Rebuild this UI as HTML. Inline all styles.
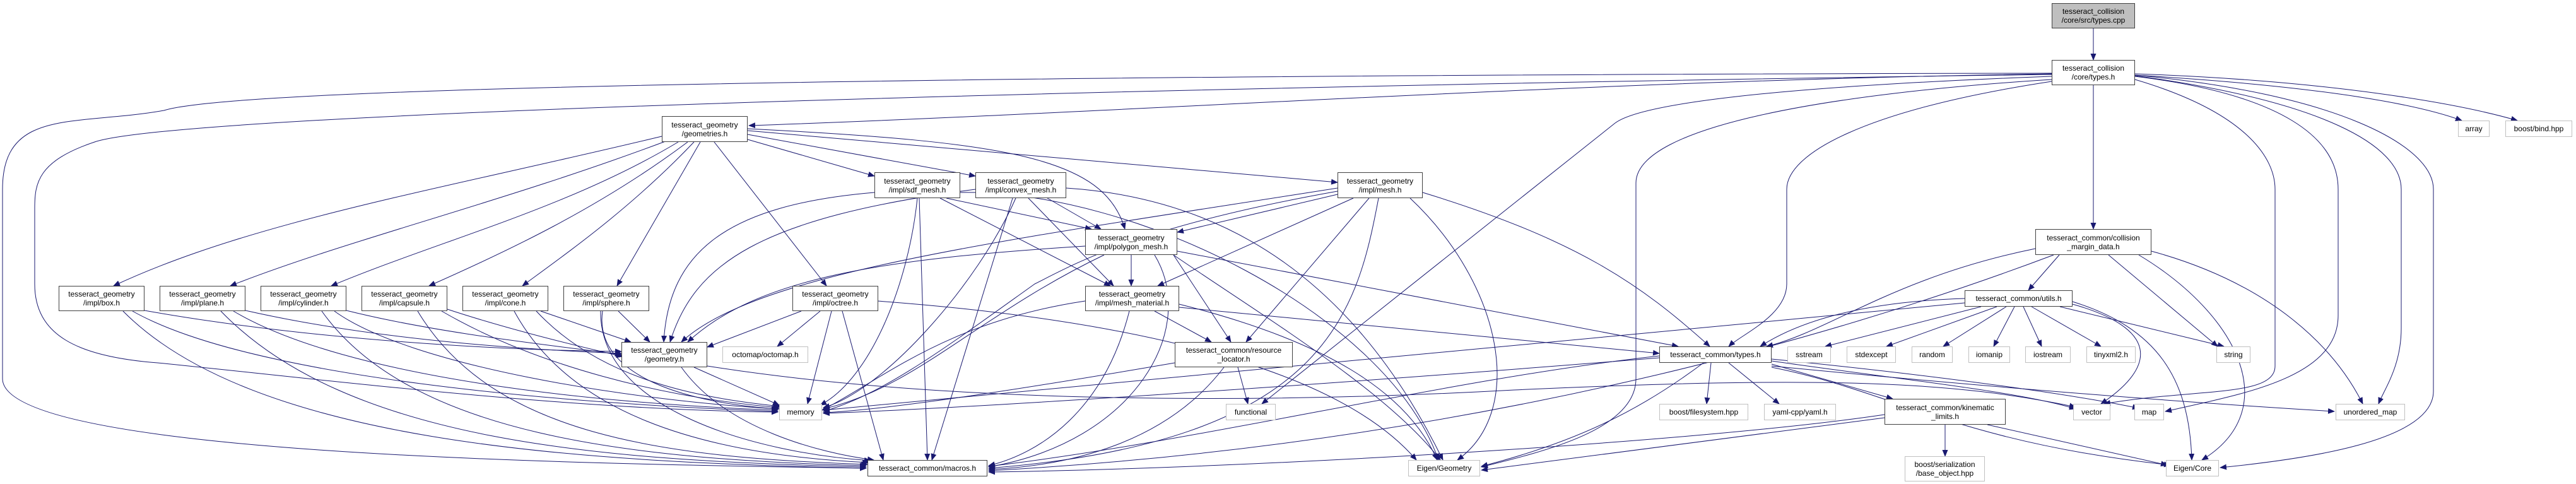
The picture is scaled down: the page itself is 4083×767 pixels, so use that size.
<!DOCTYPE html>
<html><head><meta charset="utf-8"><style>
html,body{margin:0;padding:0;background:#fff;}
#c{position:relative;width:4083px;height:767px;overflow:hidden;background:#fff;}
svg{position:absolute;left:0;top:0;}
.n{position:absolute;box-sizing:border-box;border:1.3px solid #404040;background:#fff;display:flex;align-items:center;justify-content:center;text-align:center;font-family:"Liberation Sans",sans-serif;font-size:12px;line-height:14px;color:#000;white-space:nowrap;}
.g{border-color:#c0c0c0;}
</style></head><body><div id="c">
<svg width="4083" height="767" viewBox="0 0 4083 767">
<defs><marker id="a" markerUnits="userSpaceOnUse" markerWidth="11" markerHeight="9" refX="10" refY="4.5" orient="auto"><path d="M0,0 L11,4.5 L0,9 z" fill="#191970"/></marker></defs>
<g fill="none" stroke="#191970" stroke-width="1" marker-end="url(#a)">
<path d="M3318,45 L3318,95"/>
<path d="M3252,117 C2500,128 1800,178 1187,199"/>
<path d="M3252,116 C2000,118 400,130 260,175 C120,200 4,170 4,300 L4,600 C4,720 900,735 1373,742"/>
<path d="M3252,118 C2000,135 300,175 150,225 C60,255 55,290 55,330 L55,450 C55,530 120,565 250,575 C500,600 900,650 1233,653"/>
<path d="M3252,121 C2800,138 2600,165 2560,195 L2000,640"/>
<path d="M3252,126 C2900,148 2593,200 2593,290 L2593,600 C2593,680 2450,715 2348,740"/>
<path d="M3252,129 C2950,175 2832,245 2832,300 L2832,450 C2832,500 2760,530 2740,549"/>
<path d="M3318,135 L3318,363"/>
<path d="M3384,126 C3560,178 3606,250 3606,300 L3606,580 C3606,630 3480,615 3335,640"/>
<path d="M3384,121 C3620,150 3706,220 3706,300 L3706,500 C3706,600 3550,625 3432,652"/>
<path d="M3384,120 C3680,160 3806,230 3806,300 L3806,520 C3806,580 3780,615 3770,640"/>
<path d="M3384,119 C3700,148 3857,230 3857,300 L3857,620 C3857,700 3650,728 3519,741"/>
<path d="M3384,119 C3700,138 3840,168 3902,191"/>
<path d="M3384,117 C3700,128 3900,165 3990,191"/>
<path d="M1049,216 C700,300 400,350 180,453"/>
<path d="M1060,222 C800,320 550,380 365,453"/>
<path d="M1075,225 C900,330 700,380 525,453"/>
<path d="M1090,225 C950,330 800,400 680,453"/>
<path d="M1100,225 C1000,330 900,400 828,453"/>
<path d="M1110,225 L978,453"/>
<path d="M1132,225 L1310,453"/>
<path d="M1185,221 L1386,279"/>
<path d="M1185,213 L1546,279"/>
<path d="M1185,207 L2120,289"/>
<path d="M1185,204 C1600,225 1750,250 1783,363"/>
<path d="M229,492 C500,540 800,555 985,557"/>
<path d="M210,493 C400,600 900,640 1233,652"/>
<path d="M195,493 C400,700 900,732 1373,742"/>
<path d="M389,492 C600,540 850,555 985,560"/>
<path d="M370,493 C550,600 950,640 1233,650"/>
<path d="M350,493 C550,700 950,730 1373,740"/>
<path d="M549,492 C700,530 900,550 985,562"/>
<path d="M530,493 C650,580 1000,635 1233,648"/>
<path d="M510,493 C650,690 1000,728 1373,738"/>
<path d="M709,490 C800,520 900,545 987,565"/>
<path d="M700,493 C850,580 1050,630 1235,646"/>
<path d="M662,493 C780,690 1050,725 1375,736"/>
<path d="M857,493 L1000,542"/>
<path d="M850,493 C950,600 1100,630 1237,644"/>
<path d="M815,493 C900,650 1100,720 1377,733"/>
<path d="M980,493 L1030,542"/>
<path d="M955,493 C940,600 1100,640 1235,648"/>
<path d="M952,493 C950,650 1200,718 1380,730"/>
<path d="M1270,493 L1121,550"/>
<path d="M1300,493 L1232,549"/>
<path d="M1318,493 L1280,640"/>
<path d="M1335,493 L1400,729"/>
<path d="M1391,477 C1700,500 2100,560 2245,729"/>
<path d="M1100,582 L1235,642"/>
<path d="M1080,582 C1150,680 1300,718 1385,729"/>
<path d="M1121,580 C1500,640 2000,640 2400,618 C2900,595 3100,605 3290,645"/>
<path d="M1500,314 L1730,363"/>
<path d="M1490,314 L1760,453"/>
<path d="M1386,305 C1150,325 1060,400 1052,542"/>
<path d="M1454,314 C1440,450 1380,600 1300,642"/>
<path d="M1457,314 L1470,729"/>
<path d="M1522,305 C1800,300 2200,500 2280,729"/>
<path d="M1660,314 L1745,363"/>
<path d="M1630,314 L1765,453"/>
<path d="M1546,300 C1200,345 1100,420 1062,542"/>
<path d="M1610,314 C1550,450 1400,620 1305,646"/>
<path d="M1605,314 L1477,729"/>
<path d="M1690,298 C1950,315 2150,450 2287,729"/>
<path d="M2120,308 L1866,368"/>
<path d="M2145,314 L1835,453"/>
<path d="M2170,314 L1975,542"/>
<path d="M2120,303 C1800,360 1700,420 1640,450 C1500,550 1400,625 1305,652"/>
<path d="M2185,314 C2150,500 2100,700 1567,742"/>
<path d="M2235,314 C2380,450 2420,650 2310,729"/>
<path d="M2255,305 C2500,380 2600,450 2710,549"/>
<path d="M2120,298 C1600,380 1200,430 1080,542"/>
<path d="M1793,404 L1793,453"/>
<path d="M1860,404 L1951,542"/>
<path d="M1750,404 C1550,500 1450,615 1305,648"/>
<path d="M1830,404 C1900,520 1800,700 1567,740"/>
<path d="M1860,404 C2000,500 2200,620 2283,729"/>
<path d="M1866,398 L2660,549"/>
<path d="M1720,390 C1400,410 1200,440 1090,542"/>
<path d="M1830,493 L1920,542"/>
<path d="M1720,477 C1500,510 1400,600 1303,650"/>
<path d="M1790,493 C1750,650 1650,718 1567,738"/>
<path d="M1869,482 C2100,540 2230,620 2278,729"/>
<path d="M1869,487 L2630,560"/>
<path d="M1962,582 L1978,640"/>
<path d="M1862,575 C1600,620 1400,650 1305,654"/>
<path d="M1940,582 C1850,700 1700,738 1567,744"/>
<path d="M3264,404 L3215,460"/>
<path d="M3226,394 C3000,440 2900,525 2800,549"/>
<path d="M3255,404 C3000,500 2400,700 1567,746"/>
<path d="M3342,404 L3515,549"/>
<path d="M3390,404 C3550,500 3620,650 3490,729"/>
<path d="M3410,398 C3600,450 3700,550 3745,640"/>
<path d="M3140,486 L2893,549"/>
<path d="M3165,486 L2990,549"/>
<path d="M3180,486 L3080,549"/>
<path d="M3193,486 L3160,549"/>
<path d="M3207,486 L3236,549"/>
<path d="M3220,486 L3330,549"/>
<path d="M3265,486 L3525,549"/>
<path d="M3285,482 C3420,520 3420,580 3330,640"/>
<path d="M3285,478 C3420,520 3470,600 3474,729"/>
<path d="M3114,473 C2950,478 2850,510 2790,549"/>
<path d="M3114,480 C2500,540 1800,600 1305,650"/>
<path d="M2712,575 L2705,640"/>
<path d="M2740,575 L2820,640"/>
<path d="M2808,572 C3000,600 3200,620 3290,648"/>
<path d="M2808,569 C3100,598 3300,628 3390,647"/>
<path d="M2808,580 C3200,618 3500,640 3700,652"/>
<path d="M2808,577 L3000,632"/>
<path d="M2700,575 C2600,650 2500,700 2348,739"/>
<path d="M2630,564 C2300,600 1900,700 1567,739"/>
<path d="M2630,567 C2000,618 1500,648 1305,655"/>
<path d="M2808,582 C3000,620 3100,700 3440,737"/>
<path d="M3083,673 L3083,723"/>
<path d="M3150,673 L3435,737"/>
<path d="M2987,662 L2348,745"/>
<path d="M2987,657 C2700,700 2000,742 1567,748"/>
</g></svg>
<div class="n" style="left:3252px;top:5px;width:132px;height:40px;background:#bfbfbf">tesseract_collision<br>/core/src/types.cpp</div>
<div class="n" style="left:3252px;top:95px;width:132px;height:40px">tesseract_collision<br>/core/types.h</div>
<div class="n" style="left:1049px;top:184px;width:136px;height:41px">tesseract_geometry<br>/geometries.h</div>
<div class="n" style="left:1386px;top:273px;width:136px;height:41px">tesseract_geometry<br>/impl/sdf_mesh.h</div>
<div class="n" style="left:1546px;top:273px;width:144px;height:41px">tesseract_geometry<br>/impl/convex_mesh.h</div>
<div class="n" style="left:2120px;top:273px;width:135px;height:41px">tesseract_geometry<br>/impl/mesh.h</div>
<div class="n" style="left:1720px;top:363px;width:146px;height:41px">tesseract_geometry<br>/impl/polygon_mesh.h</div>
<div class="n" style="left:3226px;top:363px;width:184px;height:41px">tesseract_common/collision<br>_margin_data.h</div>
<div class="n" style="left:93px;top:453px;width:136px;height:40px">tesseract_geometry<br>/impl/box.h</div>
<div class="n" style="left:253px;top:453px;width:136px;height:40px">tesseract_geometry<br>/impl/plane.h</div>
<div class="n" style="left:413px;top:453px;width:136px;height:40px">tesseract_geometry<br>/impl/cylinder.h</div>
<div class="n" style="left:573px;top:453px;width:136px;height:40px">tesseract_geometry<br>/impl/capsule.h</div>
<div class="n" style="left:733px;top:453px;width:136px;height:40px">tesseract_geometry<br>/impl/cone.h</div>
<div class="n" style="left:893px;top:453px;width:136px;height:40px">tesseract_geometry<br>/impl/sphere.h</div>
<div class="n" style="left:1256px;top:453px;width:136px;height:40px">tesseract_geometry<br>/impl/octree.h</div>
<div class="n" style="left:1720px;top:453px;width:149px;height:40px">tesseract_geometry<br>/impl/mesh_material.h</div>
<div class="n" style="left:3114px;top:460px;width:171px;height:26px">tesseract_common/utils.h</div>
<div class="n" style="left:985px;top:542px;width:136px;height:40px">tesseract_geometry<br>/geometry.h</div>
<div class="n g" style="left:1145px;top:549px;width:136px;height:26px">octomap/octomap.h</div>
<div class="n" style="left:1862px;top:542px;width:187px;height:40px">tesseract_common/resource<br>_locator.h</div>
<div class="n" style="left:2630px;top:549px;width:178px;height:26px">tesseract_common/types.h</div>
<div class="n g" style="left:2833px;top:549px;width:69px;height:26px">sstream</div>
<div class="n g" style="left:2927px;top:549px;width:78px;height:26px">stdexcept</div>
<div class="n g" style="left:3030px;top:549px;width:65px;height:26px">random</div>
<div class="n g" style="left:3120px;top:549px;width:66px;height:26px">iomanip</div>
<div class="n g" style="left:3210px;top:549px;width:72px;height:26px">iostream</div>
<div class="n g" style="left:3307px;top:549px;width:78px;height:26px">tinyxml2.h</div>
<div class="n g" style="left:3513px;top:549px;width:54px;height:26px">string</div>
<div class="n g" style="left:3896px;top:191px;width:50px;height:26px">array</div>
<div class="n g" style="left:3971px;top:191px;width:106px;height:26px">boost/bind.hpp</div>
<div class="n g" style="left:1235px;top:640px;width:68px;height:26px">memory</div>
<div class="n g" style="left:1943px;top:640px;width:79px;height:26px">functional</div>
<div class="n g" style="left:2630px;top:640px;width:141px;height:26px">boost/filesystem.hpp</div>
<div class="n g" style="left:2796px;top:640px;width:114px;height:26px">yaml-cpp/yaml.h</div>
<div class="n" style="left:2987px;top:632px;width:192px;height:41px">tesseract_common/kinematic<br>_limits.h</div>
<div class="n g" style="left:3286px;top:640px;width:59px;height:26px">vector</div>
<div class="n g" style="left:3383px;top:640px;width:47px;height:26px">map</div>
<div class="n g" style="left:3702px;top:640px;width:110px;height:26px">unordered_map</div>
<div class="n" style="left:1375px;top:729px;width:190px;height:26px">tesseract_common/macros.h</div>
<div class="n g" style="left:2232px;top:729px;width:114px;height:26px">Eigen/Geometry</div>
<div class="n g" style="left:3019px;top:723px;width:127px;height:40px">boost/serialization<br>/base_object.hpp</div>
<div class="n g" style="left:3433px;top:729px;width:84px;height:26px">Eigen/Core</div>
</div></body></html>
